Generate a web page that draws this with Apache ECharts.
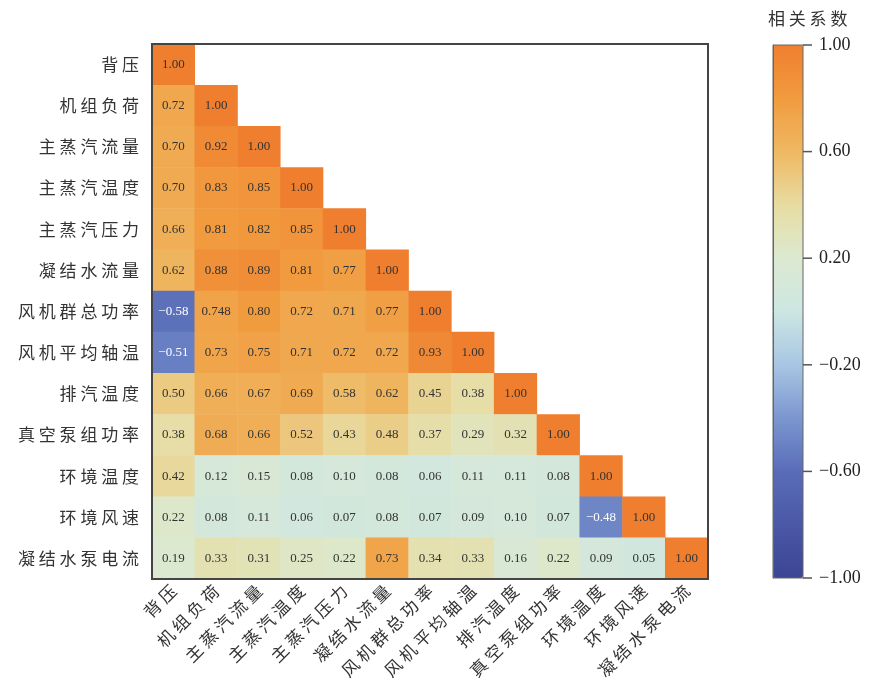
<!DOCTYPE html>
<html>
<head>
<meta charset="utf-8">
<title>相关系数热力图</title>
<script src="https://cdn.jsdelivr.net/npm/echarts@6/dist/echarts.min.js"></script>
<style>
  html, body { margin: 0; padding: 0; background: #fff; }
  #chart { width: 871px; height: 686px; }
</style>
</head>
<body>
<div id="chart"></div>
<script>
  // 变量名（行/列相同）
  var names = ['背压', '机组负荷', '主蒸汽流量', '主蒸汽温度', '主蒸汽压力', '凝结水流量',
    '风机群总功率', '风机平均轴温', '排汽温度', '真空泵组功率', '环境温度', '环境风速', '凝结水泵电流'];

  // 下三角相关系数，每行一个数组
  var row0 = [1.00];
  var row1 = [0.72, 1.00];
  var row2 = [0.70, 0.92, 1.00];
  var row3 = [0.70, 0.83, 0.85, 1.00];
  var row4 = [0.66, 0.81, 0.82, 0.85, 1.00];
  var row5 = [0.62, 0.88, 0.89, 0.81, 0.77, 1.00];
  var row6 = [-0.58, 0.748, 0.80, 0.72, 0.71, 0.77, 1.00];
  var row7 = [-0.51, 0.73, 0.75, 0.71, 0.72, 0.72, 0.93, 1.00];
  var row8 = [0.50, 0.66, 0.67, 0.69, 0.58, 0.62, 0.45, 0.38, 1.00];
  var row9 = [0.38, 0.68, 0.66, 0.52, 0.43, 0.48, 0.37, 0.29, 0.32, 1.00];
  var row10 = [0.42, 0.12, 0.15, 0.08, 0.10, 0.08, 0.06, 0.11, 0.11, 0.08, 1.00];
  var row11 = [0.22, 0.08, 0.11, 0.06, 0.07, 0.08, 0.07, 0.09, 0.10, 0.07, -0.48, 1.00];
  var row12 = [0.19, 0.33, 0.31, 0.25, 0.22, 0.73, 0.34, 0.33, 0.16, 0.22, 0.09, 0.05, 1.00];
  var rows = [row0, row1, row2, row3, row4, row5, row6, row7, row8, row9, row10, row11, row12];

  // 色标刻度
  var barTicks = [-1.00, -0.60, -0.20, 0.20, 0.60, 1.00];

  var colors = ['#3b4594', '#4a58a6', '#5a6cb8', '#7b96d0', '#a8c6e3', '#cde6e3',
    '#dce9d0', '#e7dca2', '#efb862', '#f19b3f', '#ef7f2f'];

  function fmt(v) {
    var s = String(v);
    var dec = s.indexOf('.') < 0 ? 0 : s.length - s.indexOf('.') - 1;
    var t = Math.abs(v).toFixed(Math.max(2, dec));
    return (v < 0 ? '\u2212' : '') + t;
  }

  // 字间距：汉字之间加空格
  function spaced(s) {
    return s.split('').join(' ');
  }

  var data = [];
  rows.forEach(function (r, i) {
    r.forEach(function (v, j) {
      var item = { value: [j, i, v] };
      if (v < 0) {
        item.label = { color: '#fff' };
      }
      data.push(item);
    });
  });

  var cjk = 'Noto Sans CJK SC';
  var chart = echarts.init(document.getElementById('chart'));
  var option = {
    backgroundColor: '#fff',
    animation: false,
    title: {
      text: spaced('相关系数'),
      left: 763,
      top: 5,
      textStyle: { fontFamily: cjk, fontSize: 17, fontWeight: 'normal', color: '#333' }
    },
    grid: [
      { left: 152, top: 44, width: 556, height: 535, show: true, borderColor: '#444', borderWidth: 2,
        backgroundColor: 'transparent', z: 10 },
      { left: 773, top: 45, width: 30, height: 533, show: true, borderColor: '#666', borderWidth: 1,
        backgroundColor: 'transparent', z: 10 }
    ],
    xAxis: [
      {
        type: 'category', gridIndex: 0, data: names,
        axisLine: { show: false }, axisTick: { show: false }, splitLine: { show: false },
        axisLabel: { rotate: 45, margin: 9, fontSize: 17, color: '#333', fontFamily: cjk, interval: 0,
          formatter: spaced }
      },
      { type: 'value', gridIndex: 1, show: false, min: 0, max: 1 }
    ],
    yAxis: [
      {
        type: 'category', gridIndex: 0, data: names, inverse: true,
        axisLine: { show: false }, axisTick: { show: false }, splitLine: { show: false },
        axisLabel: { margin: 13, fontSize: 17, color: '#333', fontFamily: cjk, interval: 0,
          formatter: spaced }
      },
      {
        type: 'value', gridIndex: 1, position: 'right', min: 0, max: barTicks.length - 1, interval: 1,
        z: 12,
        axisLine: { show: true, lineStyle: { color: '#666', width: 1 } },
        axisTick: { show: false },
        splitLine: { show: false },
        axisLabel: {
          margin: 0, color: '#222',
          // 用富文本画出朝外的短刻度线
          formatter: function (v) { return '{t|}{v|' + fmt(barTicks[Math.round(v)]) + '}'; },
          rich: {
            t: { width: 9, height: 1.5, backgroundColor: '#555', verticalAlign: 'middle' },
            v: { fontSize: 18, fontFamily: 'Liberation Serif', color: '#222', padding: [0, 0, 0, 7], verticalAlign: 'middle' }
          }
        }
      }
    ],
    visualMap: {
      type: 'continuous',
      min: -1,
      max: 1,
      seriesIndex: 0,
      left: 773,
      top: 45,
      padding: 0,
      itemWidth: 30,
      itemHeight: 533,
      calculable: false,
      hoverLink: false,
      text: null,
      showLabel: false,
      inRange: { color: colors }
    },
    series: [{
      type: 'heatmap',
      xAxisIndex: 0,
      yAxisIndex: 0,
      data: data,
      label: {
        show: true,
        fontFamily: 'Liberation Serif',
        fontSize: 13,
        color: '#333',
        formatter: function (p) { return fmt(p.value[2]); }
      },
      emphasis: { disabled: true }
    }]
  };
  chart.setOption(option);
</script>
</body>
</html>
